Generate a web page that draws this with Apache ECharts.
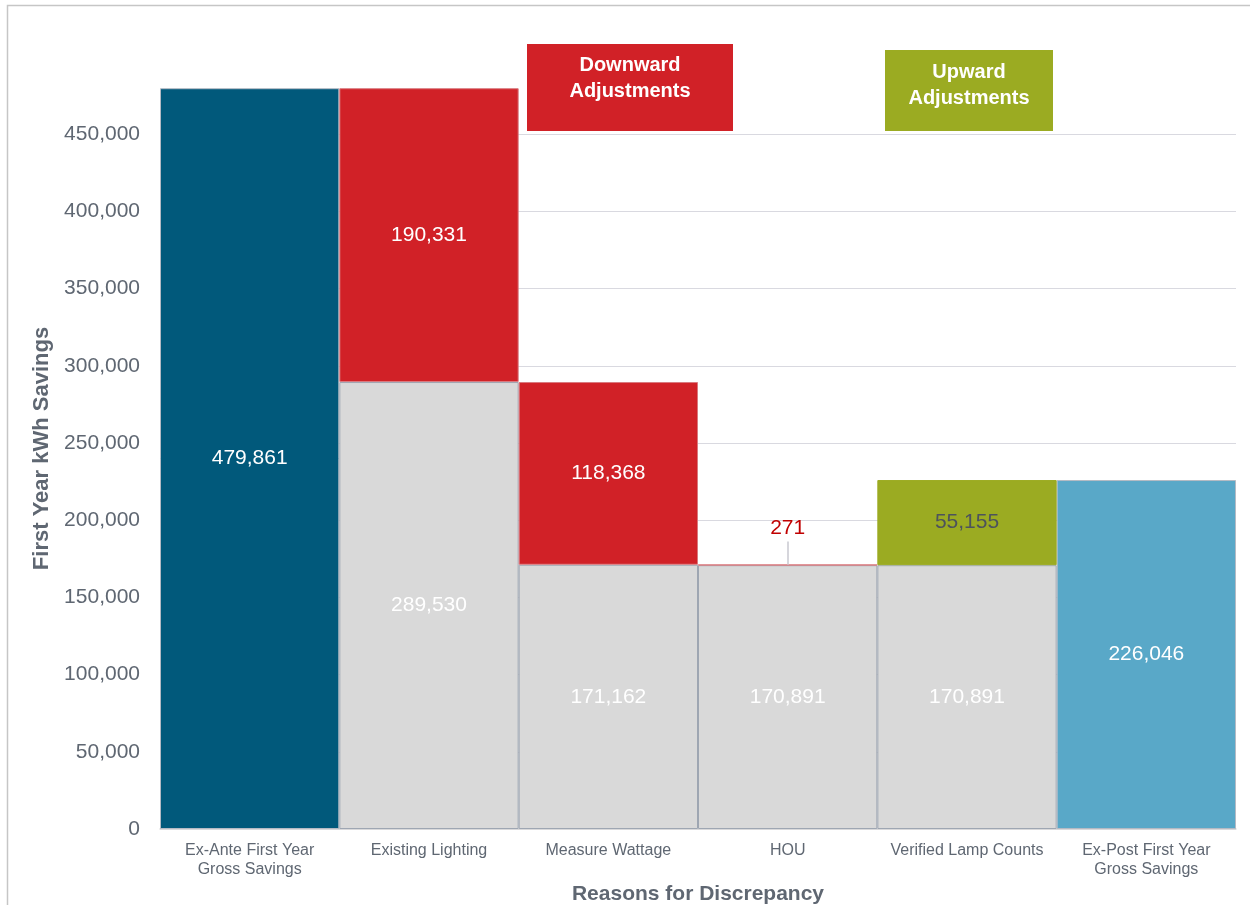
<!DOCTYPE html>
<html>
<head>
<meta charset="utf-8">
<title>First Year kWh Savings – Reasons for Discrepancy</title>
<script src="https://cdn.jsdelivr.net/npm/echarts@6/dist/echarts.min.js"></script>
<style>
  html, body { margin: 0; padding: 0; background: #ffffff; }
  #chart { width: 1250px; height: 905px; }
</style>
</head>
<body>
<div id="chart"></div>
<script>
// Waterfall of first-year kWh savings, ex-ante to ex-post
const categories = [
  'Ex-Ante First Year\nGross Savings',
  'Existing Lighting',
  'Measure Wattage',
  'HOU',
  'Verified Lamp Counts',
  'Ex-Post First Year\nGross Savings'
];
// totals at both ends of the waterfall
const totalValues = [479861, null, null, null, null, 226046];
// remaining savings carried under each adjustment
const baseValues = [null, 289530, 171162, 170891, 170891, null];
// downward adjustments
const downValues = [null, 190331, 118368, 271, null, null];
// upward adjustments
const upValues = [null, null, null, null, 55155, null];
const yTicks = { min: 0, max: 480000, interval: 50000 };

const fmt = v => Number(v).toLocaleString('en-US');
const FONT = '"Liberation Sans", Arial, Helvetica, sans-serif';
const NARROW = '"Liberation Sans Narrow", "Liberation Sans", Arial, sans-serif';

const totalColors = ['#01597b', null, null, null, null, '#59a8c8'];

// small values get their label lifted above the bar with a leader line
const smallLimit = 5000;
const leaderLines = [];
downValues.forEach((v, i) => {
  if (v != null && v < smallLimit) {
    const top = baseValues[i] + v;
    leaderLines.push([{ coord: [i, top] }, { coord: [i, top + 15000] }]);
  }
});

const chart = echarts.init(document.getElementById('chart'), null, { renderer: 'canvas' });

const option = {
  backgroundColor: '#ffffff',
  animation: false,
  textStyle: { fontFamily: FONT },
  grid: { left: 160, right: 14, top: 88, bottom: 76, containLabel: false, outerBoundsMode: 'none' },
  xAxis: {
    type: 'category',
    data: categories,
    axisLine: { show: true, lineStyle: { color: '#d9d9d9', width: 1.5 } },
    axisTick: { show: false },
    axisLabel: {
      color: '#5f6772', fontSize: 16, fontFamily: FONT,
      margin: 12, lineHeight: 19, interval: 0
    },
    name: 'Reasons for Discrepancy',
    nameLocation: 'middle',
    nameGap: 52,
    nameTextStyle: { color: '#5f6772', fontSize: 21, fontWeight: 'bold', fontFamily: NARROW }
  },
  yAxis: {
    type: 'value',
    min: yTicks.min,
    max: yTicks.max,
    interval: yTicks.interval,
    axisLine: { show: false },
    axisTick: { show: false },
    axisLabel: {
      color: '#5f6772', fontSize: 21, margin: 20, fontFamily: FONT,
      showMaxLabel: false,
      formatter: v => fmt(v)
    },
    splitLine: { show: true, showMaxLine: false, lineStyle: { color: '#d9d9e0', width: 1 } },
    name: 'First Year kWh Savings',
    nameLocation: 'middle',
    nameRotate: 90,
    nameGap: 106,
    nameTextStyle: {
      color: '#5f6772', fontSize: 22, fontWeight: 'bold', fontFamily: NARROW,
      padding: [0, 0, 0, 20]
    }
  },
  series: [
    {
      name: 'Total',
      type: 'bar',
      stack: 'w',
      barCategoryGap: 0,
      data: totalValues.map((v, i) => v == null ? null : {
        value: v, itemStyle: { color: totalColors[i] }
      }),
      itemStyle: { borderColor: '#b4bac4', borderWidth: 1 },
      label: {
        show: true, position: 'inside', color: '#ffffff', fontSize: 21,
        formatter: p => fmt(p.value)
      }
    },
    {
      name: 'Remaining',
      type: 'bar',
      stack: 'w',
      barCategoryGap: 0,
      data: baseValues,
      itemStyle: { color: '#d9d9d9', borderColor: '#9ea6b2', borderWidth: 1 },
      label: {
        show: true, position: 'inside', color: '#ffffff', fontSize: 21,
        formatter: p => fmt(p.value)
      }
    },
    {
      name: 'Downward Adjustments',
      type: 'bar',
      stack: 'w',
      barCategoryGap: 0,
      data: downValues.map(v => {
        if (v == null) return null;
        if (v < smallLimit) {
          return {
            value: v,
            label: { position: 'top', distance: 26, color: '#c00000' }
          };
        }
        return v;
      }),
      itemStyle: { color: '#d12127', borderColor: '#d9797e', borderWidth: 1 },
      label: {
        show: true, position: 'inside', color: '#ffffff', fontSize: 21,
        formatter: p => fmt(p.value)
      },
      markLine: {
        silent: true,
        symbol: 'none',
        label: { show: false },
        lineStyle: { color: '#c8c9d0', width: 1.5, type: 'solid' },
        data: leaderLines
      }
    },
    {
      name: 'Upward Adjustments',
      type: 'bar',
      stack: 'w',
      barCategoryGap: 0,
      data: upValues,
      itemStyle: { color: '#9bab22', borderColor: '#9bab22', borderWidth: 1 },
      label: {
        show: true, position: 'inside', color: '#4d535c', fontSize: 21,
        formatter: p => fmt(p.value)
      }
    }
  ],
  graphic: [
    {
      type: 'rect', z: -10, silent: true,
      shape: { x: 7.5, y: 5.5, width: 1400, height: 1200 },
      style: { fill: null, stroke: '#c6c6c6', lineWidth: 1.5 }
    },
    {
      type: 'group', left: 527, top: 44, z: 50,
      children: [
        { type: 'rect', shape: { x: 0, y: 0, width: 206, height: 87 }, style: { fill: '#d12127' } },
        {
          type: 'text', x: 103, y: 34,
          style: {
            text: 'Downward\nAdjustments', fill: '#ffffff', font: 'bold 20px ' + NARROW,
            align: 'center', verticalAlign: 'middle', lineHeight: 26
          }
        }
      ]
    },
    {
      type: 'group', left: 885, top: 50, z: 50,
      children: [
        { type: 'rect', shape: { x: 0, y: 0, width: 168, height: 81 }, style: { fill: '#9bab22' } },
        {
          type: 'text', x: 84, y: 35,
          style: {
            text: 'Upward\nAdjustments', fill: '#ffffff', font: 'bold 20px ' + NARROW,
            align: 'center', verticalAlign: 'middle', lineHeight: 26
          }
        }
      ]
    }
  ]
};

chart.setOption(option);
</script>
</body>
</html>
